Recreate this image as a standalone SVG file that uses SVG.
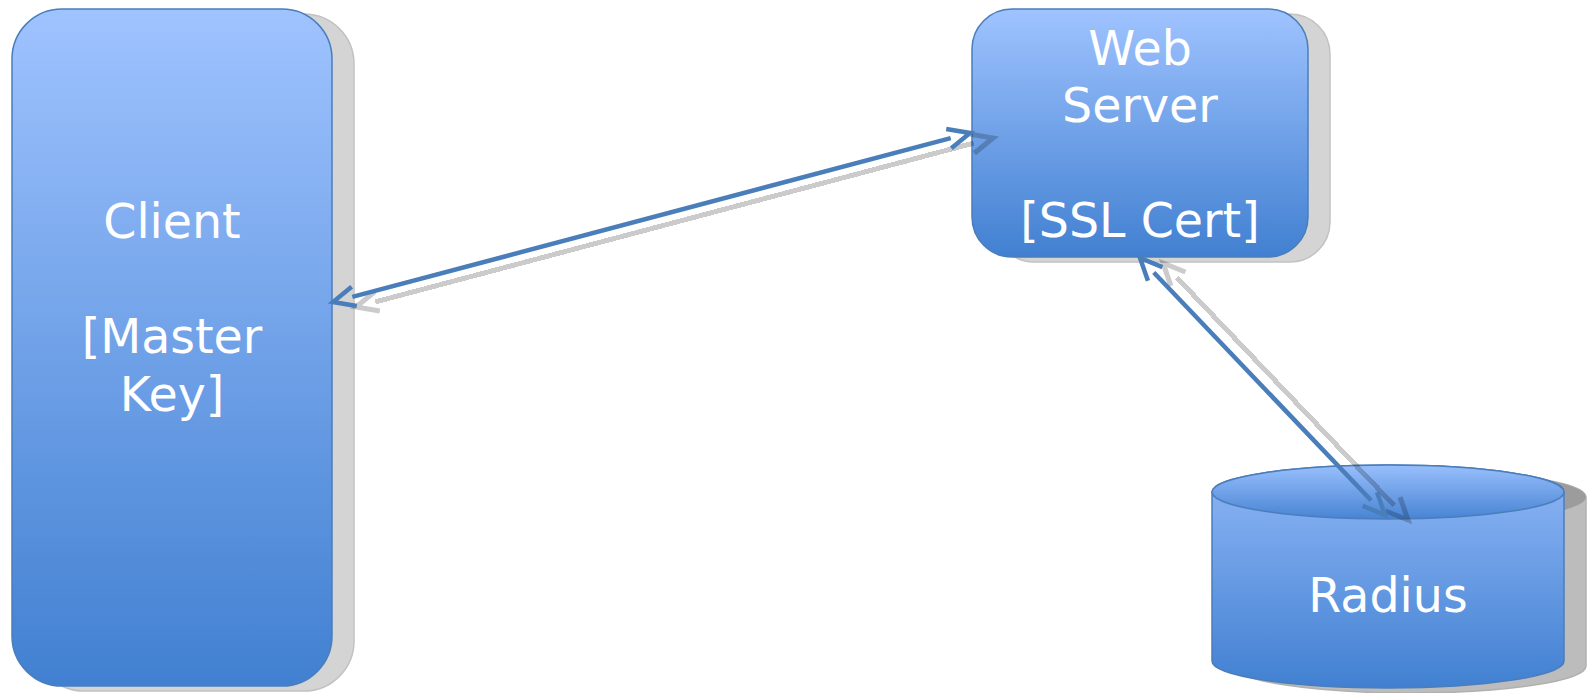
<svg xmlns="http://www.w3.org/2000/svg" width="1591" height="693" viewBox="0 0 1591 693">
  <style>
    .box { stroke: #4a7ebb; stroke-width: 1.5; }
    .shadow { fill: #d4d4d4; stroke: #c2c2c2; stroke-width: 1.5; }
    .lbl { font-family: "DejaVu Sans", "Liberation Sans", sans-serif; font-size: 47.5px; fill: #ffffff; text-anchor: middle; }
    .conn { fill: none; stroke: #4a7ebb; stroke-width: 4.5; }
    .connsh { fill: none; stroke: #000000; stroke-width: 5; }
  </style>
  <defs>
    <linearGradient id="gBox" x1="0" y1="0" x2="0" y2="1">
      <stop offset="0" stop-color="#9fc3ff"/>
      <stop offset="1" stop-color="#4180d1"/>
    </linearGradient>
    <linearGradient id="gCylBody" x1="0" y1="0" x2="0" y2="1">
      <stop offset="0" stop-color="#8fb7f7"/>
      <stop offset="1" stop-color="#4180d1"/>
    </linearGradient>
    <linearGradient id="gCylTop" x1="0" y1="0" x2="0" y2="1">
      <stop offset="0" stop-color="#99bffc"/>
      <stop offset="1" stop-color="#4884d4"/>
    </linearGradient>
    <marker id="arr" markerUnits="userSpaceOnUse" orient="auto-start-reverse" refX="0" refY="0" markerWidth="40" markerHeight="40" viewBox="-10 -20 40 40" overflow="visible">
      <path d="M-2,-10 L20,0 L-2,10" fill="none" stroke="#4a7ebb" stroke-width="4.5"/>
    </marker>
    <marker id="arrSh" markerUnits="userSpaceOnUse" orient="auto-start-reverse" refX="0" refY="0" markerWidth="40" markerHeight="40" viewBox="-10 -20 40 40" overflow="visible">
      <path d="M-2,-10 L20,0 L-2,10" fill="none" stroke="#000000" stroke-width="5"/>
    </marker>
  </defs>

  <g id="client">
    <rect class="shadow" x="34" y="14" width="320" height="677" rx="50" ry="50"/>
    <rect class="box" x="12" y="9" width="320" height="677" rx="50" ry="50" fill="url(#gBox)"/>
    <text class="lbl" x="172" y="238">Client</text>
    <text class="lbl" x="172" y="353">[Master</text>
    <text class="lbl" x="172" y="410.5">Key]</text>
  </g>

  <g id="webserver">
    <rect class="shadow" x="994" y="14" width="336" height="248" rx="40" ry="40"/>
    <rect class="box" x="972" y="9" width="336" height="248" rx="40" ry="40" fill="url(#gBox)"/>
    <text class="lbl" x="1140" y="65">Web</text>
    <text class="lbl" x="1140" y="122">Server</text>
    <text class="lbl" x="1140" y="237">[SSL Cert]</text>
  </g>

  <g id="radius">
    <path d="M1234,497 V666 A176,27 0 0 0 1586,666 V497 A176,27 0 0 0 1234,497 Z" fill="#bcbcbc" stroke="#b0b0b0" stroke-width="1.5"/>
    <ellipse cx="1410" cy="497" rx="176" ry="27" fill="#9c9c9c"/>
    <path class="box" d="M1212,492 V661 A176,27 0 0 0 1564,661 V492 A176,27 0 0 0 1212,492 Z" fill="url(#gCylBody)"/>
    <ellipse class="box" cx="1388" cy="492" rx="176" ry="27" fill="url(#gCylTop)"/>
    <text class="lbl" x="1388" y="612">Radius</text>
  </g>

  <g id="connectors">
    <g id="connector-shadows" opacity="0.2" shape-rendering="crispEdges">
      <path class="connsh" d="M375.3,301.9 L973.7,143.1" marker-start="url(#arrSh)" marker-end="url(#arrSh)"/>
      <path class="connsh" d="M1176.8,277.5 L1394.2,505.5" marker-start="url(#arrSh)" marker-end="url(#arrSh)"/>
    </g>
    <path id="client-web" class="conn" d="M352.3,296.9 L950.7,138.1" marker-start="url(#arr)" marker-end="url(#arr)"/>
    <path id="web-radius" class="conn" d="M1153.8,272.5 L1371.2,500.5" marker-start="url(#arr)" marker-end="url(#arr)"/>
  </g>
</svg>
